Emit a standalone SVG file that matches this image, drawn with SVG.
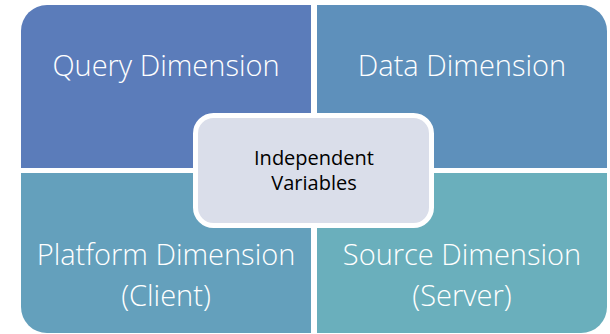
<svg xmlns="http://www.w3.org/2000/svg" width="610" height="334" viewBox="0 0 610 334">
<style>
.q{font-family:"Open Sans","Noto Sans","Liberation Sans",sans-serif;font-weight:300;font-size:29px;fill:#ffffff;text-anchor:middle}
.c{font-family:"Open Sans","Liberation Sans",sans-serif;font-size:20px;fill:#000000;text-anchor:middle}
</style>
<rect width="610" height="334" fill="#ffffff"/>
<g id="query">
<path d="M21,31 A26,26 0 0 1 47,5 H311 V168 H21 Z" fill="#5b7cba"/>
<text class="q" x="166" y="76">Query Dimension</text>
</g>
<g id="data">
<path d="M317,5 H581 A26,26 0 0 1 607,31 V168 H317 Z" fill="#5e90bb"/>
<text class="q" x="462" y="76">Data Dimension</text>
</g>
<g id="platform">
<path d="M21,173 H311 V333 H47 A26,26 0 0 1 21,307 Z" fill="#64a0bc"/>
<text class="q" x="166" y="265">Platform Dimension</text>
<text class="q" x="166" y="306">(Client)</text>
</g>
<g id="source">
<path d="M317,173 H607 V307 A26,26 0 0 1 581,333 H317 Z" fill="#6aafbc"/>
<text class="q" x="462" y="265">Source Dimension</text>
<text class="q" x="462" y="306">(Server)</text>
</g>
<g id="center">
<rect x="195.5" y="115.5" width="236" height="110" rx="18" fill="#dadeea" stroke="#ffffff" stroke-width="5"/>
<text class="c" x="314" y="165">Independent</text>
<text class="c" x="314" y="190">Variables</text>
</g>
<g id="connectors"></g>
</svg>
